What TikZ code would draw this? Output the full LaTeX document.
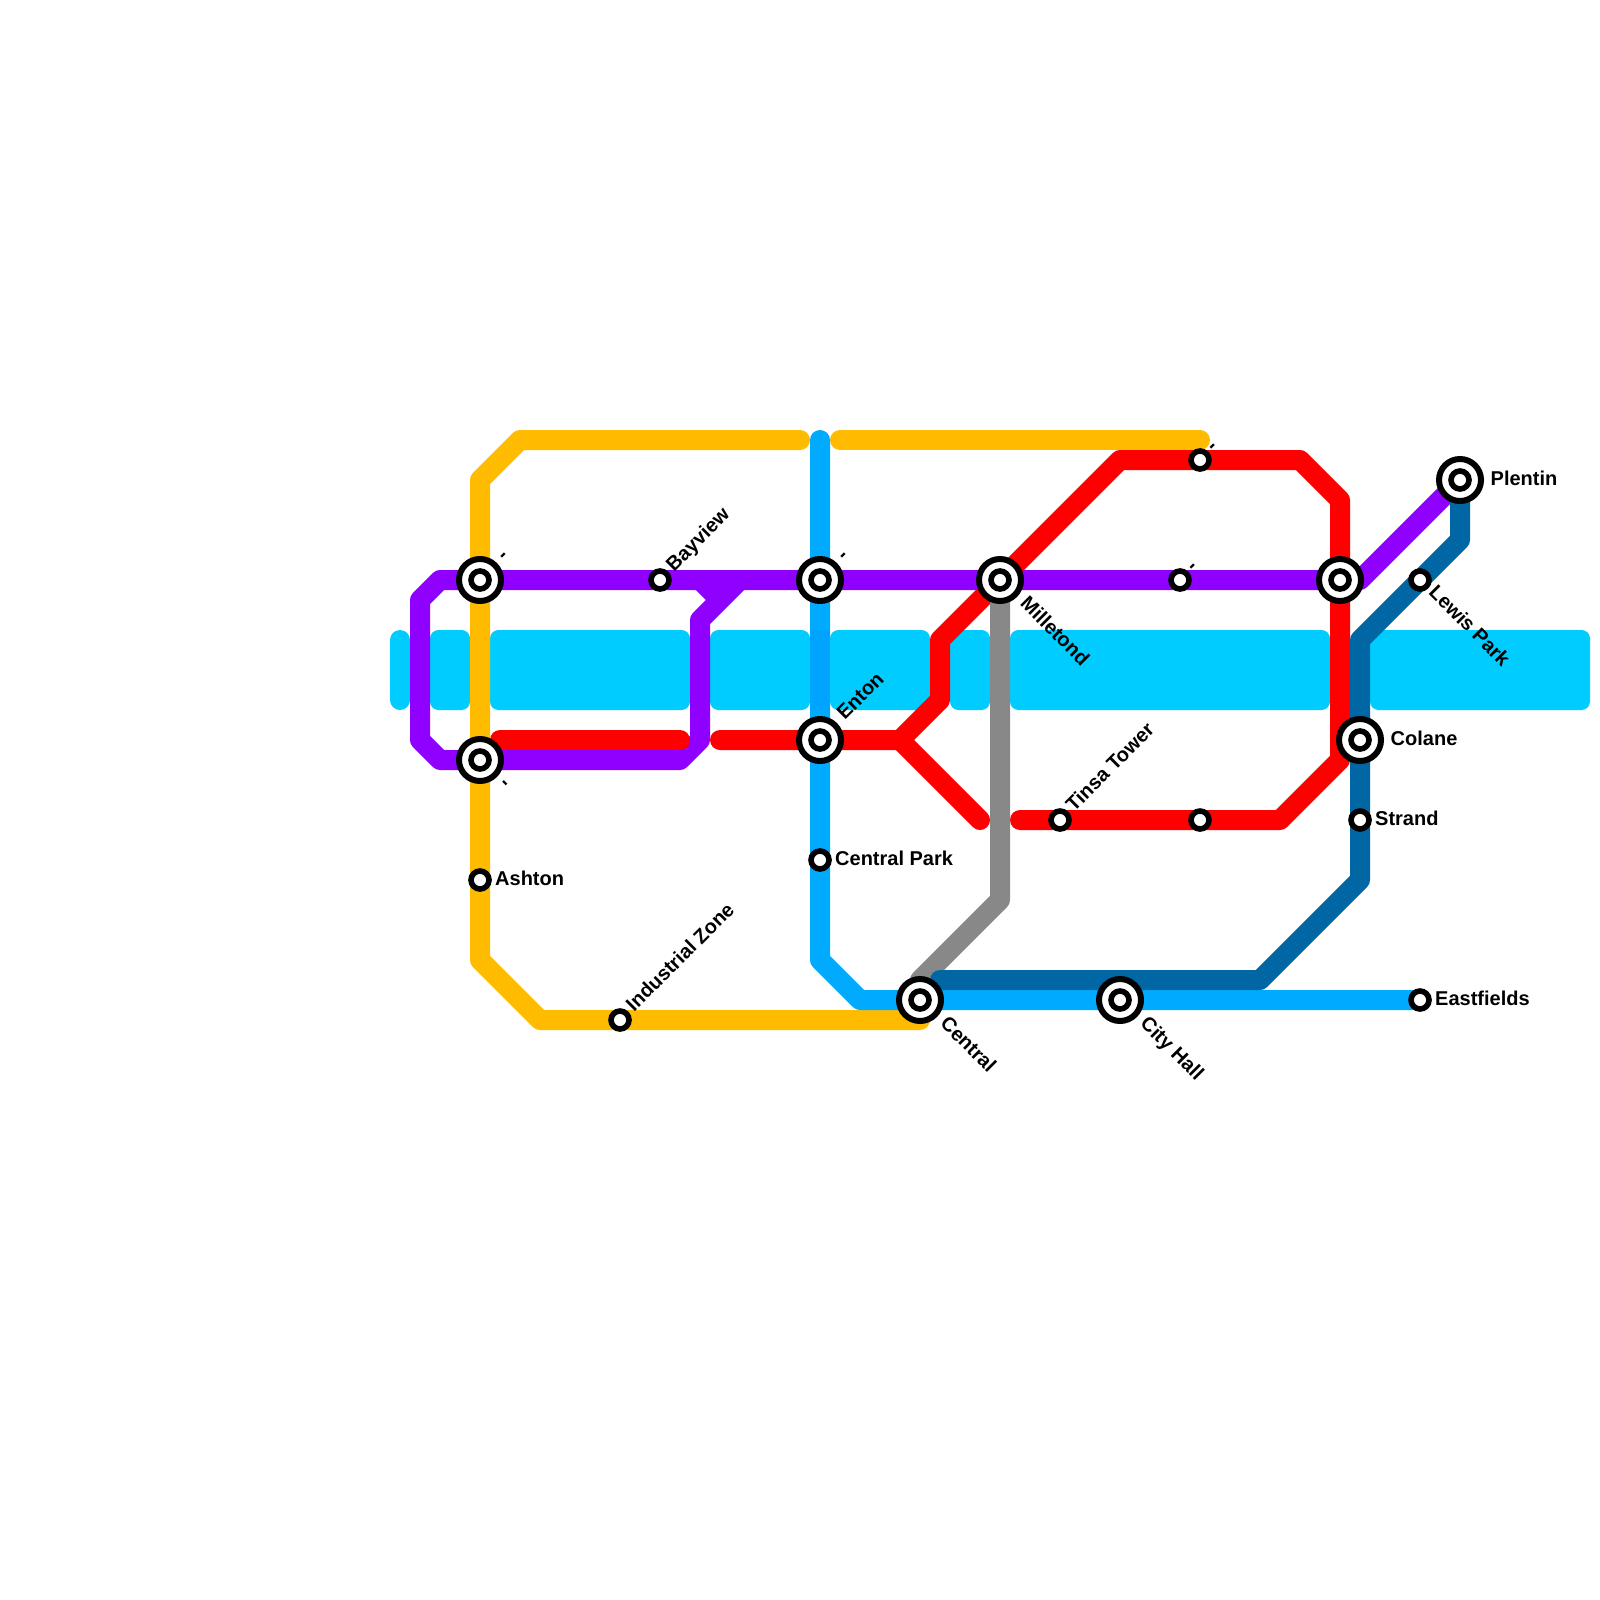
\documentclass[tikz,border=0pt]{standalone}
\usepackage{fontspec}
\setmainfont{Liberation Sans}
\usetikzlibrary{backgrounds}
\definecolor{cRiver}{HTML}{00CCFF}
\definecolor{cPurple}{HTML}{8F00FF}
\definecolor{cYellow}{HTML}{FFBB00}
\definecolor{cRed}{HTML}{FF0000}
\definecolor{cGrey}{HTML}{888888}
\definecolor{cNavy}{HTML}{0066A4}
\definecolor{cBlue}{HTML}{00AAFF}
\definecolor{cOver}{HTML}{00A4FF}
\tikzset{
  river/.style={fill=cRiver,rounded corners=8.5pt},
  metro/.style={line width=20pt,line cap=round,line join=round},
  smallst/.style={circle,draw=black,fill=white,line width=5.6pt,minimum size=18pt,inner sep=0pt},
  bigst/.style={circle,draw=black,fill=white,line width=6pt,minimum size=42pt,inner sep=0pt},
  lab/.style={font=\bfseries\fontsize{20pt}{24pt}\selectfont,inner sep=0pt,anchor=base west,text=black},
  labE/.style={lab,xshift=15pt,yshift=-5pt},
  labNE/.style={lab,xshift=14pt,yshift=7.3pt,rotate=45},
  labSE/.style={lab,xshift=7.8pt,yshift=-13.4pt,rotate=-45},
  bigE/.style={lab,xshift=30.5pt,yshift=-5pt},
  bigNE/.style={lab,xshift=24.7pt,yshift=19.1pt,rotate=45},
  bigSE/.style={lab,xshift=19.1pt,yshift=-24.7pt,rotate=-45},
  tickNE/.style={lab,anchor=center,xshift=24.5pt,yshift=23.2pt,rotate=45},
  tickSE/.style={lab,anchor=center,xshift=23.5pt,yshift=-24.5pt,rotate=-45},
  tickSmall/.style={lab,anchor=center,xshift=13.6pt,yshift=11.8pt,rotate=45},
}
\newcommand{\bigstation}[3]{%
  \node[bigst] (#1) at (#2,#3) {};
  \node[smallst] (#1-in) at (#1.center) {};
}
\begin{document}
\begin{tikzpicture}[x=1pt,y=-1pt]
\useasboundingbox (0,0) rectangle (1600,1600);
% stations
\bigstation{sA}{480}{580}
\bigstation{sB}{480}{760}
\bigstation{enton}{820}{740}
\bigstation{sC}{820}{580}
\bigstation{milletond}{1000}{580}
\bigstation{sD}{1340}{580}
\bigstation{colane}{1360}{740}
\bigstation{plentin}{1460}{480}
\bigstation{central}{920}{1000}
\bigstation{cityhall}{1120}{1000}
\node[smallst] (bayview) at (660,580) {};
\node[smallst] (sE) at (1200,460) {};
\node[smallst] (sF) at (1180,580) {};
\node[smallst] (sG) at (1200,820) {};
\node[smallst] (tinsa) at (1060,820) {};
\node[smallst] (ashton) at (480,880) {};
\node[smallst] (centralpark) at (820,860) {};
\node[smallst] (industrial) at (620,1020) {};
\node[smallst] (lewis) at (1420,580) {};
\node[smallst] (strand) at (1360,820) {};
\node[smallst] (eastfields) at (1420,1000) {};
% labels
\node[labNE] (tBayview) at (bayview.center) {Bayview};
\node[labNE] (tIndustrial) at (industrial.center) {Industrial Zone};
\node[labNE] (tTinsa) at (tinsa.center) {Tinsa Tower};
\node[labE] (tAshton) at (ashton.center) {Ashton};
\node[labE] (tCP) at (centralpark.center) {Central Park};
\node[labE] (tStrand) at (strand.center) {Strand};
\node[labE] (tEast) at (eastfields.center) {Eastfields};
\node[labSE] (tLewis) at (lewis.center) {Lewis Park};
\node[bigE] (tColane) at (colane.center) {Colane};
\node[bigE] (tPlentin) at (plentin.center) {Plentin};
\node[bigNE] (tEnton) at (enton.center) {Enton};
\node[bigSE] (tMill) at (milletond.center) {Milletond};
\node[bigSE] (tCentral) at (central.center) {Central};
\node[bigSE] (tCity) at (cityhall.center) {City Hall};
\node[tickNE] (t1) at (sA.center) {-};
\node[tickNE] (t2) at (sC.center) {-};
\node[tickSE] (t3) at (sB.center) {-};
\node[tickSmall] (t4) at (sE.center) {-};
\node[tickSmall] (t5) at (sF.center) {-};
\begin{scope}[on background layer]
  \fill[white] (0,0) rectangle (1600,1600);
  % river
  \fill[river,rounded corners=10pt] (390,630) rectangle (410,710);
  \fill[river] (430,630) rectangle (470,710);
  \fill[river] (490,630) rectangle (690,710);
  \fill[river] (710,630) rectangle (810,710);
  \fill[river] (830,630) rectangle (930,710);
  \fill[river] (950,630) rectangle (990,710);
  \fill[river] (1010,630) rectangle (1330,710);
  \fill[river] (1370,630) rectangle (1590,710);
  % yellow
  \draw[metro,cYellow] (800,440) -- (520,440) -- (480,480) -- (sA.center) -- (sB.center) -- (ashton.center) -- (480,960) -- (540,1020) -- (industrial.center) -- (920,1020);
  \draw[metro,cYellow] (840,440) -- (1200,440);
  % light blue
  \draw[metro,cBlue] (820,440) -- (sC.center) -- (enton.center) -- (centralpark.center) -- (820,960) -- (860,1000) -- (central.center) -- (cityhall.center) -- (eastfields.center);
  \fill[cOver] (810,630) rectangle (830,710);
  % purple
  \draw[metro,cPurple] (plentin.center) -- (1360,580) -- (sD.center) -- (sF.center) -- (milletond.center) -- (sC.center) -- (bayview.center) -- (sA.center) -- (440,580) -- (420,600) -- (420,740) -- (440,760) -- (sB.center) -- (680,760) -- (700,740) -- (700,620) -- (740,580);
  \draw[metro,cPurple,line cap=butt] (700,580) -- (720,600);
  % red
  \draw[metro,cRed] (500,740) -- (680,740);
  \draw[metro,cRed] (720,740) -- (enton.center) -- (900,740) -- (940,700) -- (940,640) -- (milletond.center) -- (1120,460) -- (sE.center) -- (1300,460) -- (1340,500) -- (sD.center) -- (1340,760) -- (1280,820) -- (sG.center) -- (tinsa.center) -- (1020,820);
  \draw[metro,cRed] (900,740) -- (980,820);
  % grey
  \draw[metro,cGrey] (milletond.center) -- (1000,900) -- (920,980);
  % navy
  \draw[metro,cNavy] (plentin.center) -- (1460,540) -- (lewis.center) -- (1360,640) -- (colane.center) -- (strand.center) -- (1360,880) -- (1260,980) -- (940,980);
\end{scope}
\end{tikzpicture}
\end{document}
